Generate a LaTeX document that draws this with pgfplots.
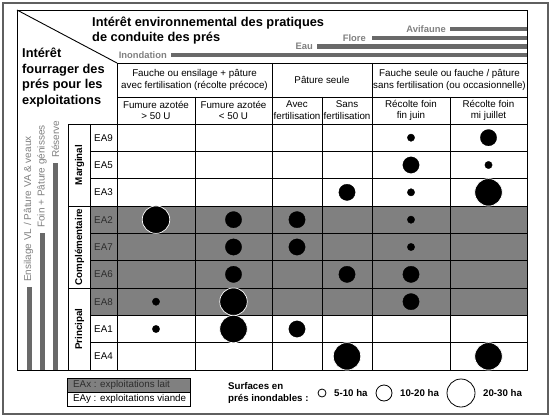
\documentclass[border=0pt]{standalone}
\usepackage{pgfplots}
\pgfplotsset{compat=1.18}
\usepackage{pgfplotstable}
\usepackage{fontspec}
\setmainfont{Liberation Sans}
\definecolor{bargray}{RGB}{105,105,105}
\definecolor{labgray}{RGB}{128,128,128}
\definecolor{rowgray}{RGB}{128,128,128}
\definecolor{framegray}{RGB}{95,95,95}
\definecolor{rowtext}{RGB}{45,45,45}

% bubble centres in picture units (column centre, row centre)
% small: 5-10 ha
\pgfplotstableread{
x y
411 137.67
488.5 165
411 192.33
411 219.67
411 247
156 301.67
156 329
}\smallb
% medium: 10-20 ha
\pgfplotstableread{
x y
488.5 137.67
411 165
347 192.33
233.5 219.67
297 219.67
233.5 247
297 247
233.5 274.33
347 274.33
411 274.33
411 301.67
297 329
}\medb
% large: 20-30 ha
\pgfplotstableread{
x y
488.5 192.33
156 219.67
233.5 301.67
233.5 329
347 356.33
488.5 356.33
}\largeb

\newcommand\hfont{\fontsize{9.8bp}{11.8bp}\selectfont}
\newcommand\tfont{\fontsize{12.8bp}{15.5bp}\selectfont\bfseries}

\begin{document}
\begin{tikzpicture}
\begin{axis}[
  width=555bp, height=417bp, scale only axis,
  xmin=0, xmax=555, ymin=0, ymax=417, y dir=reverse,
  hide axis, clip=false]
\path (0,0) rectangle (555,417);
% gray rows
\fill[rowgray] (90,206) rectangle (527,315.33);
\fill[rowgray] (67,378) rectangle (190,392);
% outer frame
\draw[framegray, line width=1.3bp] (3,3) rectangle (548,414);
% environmental bars
\draw[bargray, line width=4.5bp] (450,29) -- (527,29);
\draw[bargray, line width=4.5bp] (372,38) -- (527,38);
\draw[bargray, line width=4.5bp] (317,46.5) -- (527,46.5);
\draw[bargray, line width=4.5bp] (171,55) -- (527,55);
% fodder bars
\draw[bargray, line width=5bp] (29,287) -- (29,370);
\draw[bargray, line width=5bp] (42,233) -- (42,370);
\draw[bargray, line width=5bp] (55.5,163) -- (55.5,370);
% grid
\draw[line width=0.9bp] (17,10) rectangle (527,370);
\draw[line width=0.9bp] (17,10) -- (117,63);
\draw[line width=0.9bp] (117,63) -- (527,63);
\draw[line width=0.9bp] (117,97) -- (527,97);
\draw[line width=0.9bp] (68,124) -- (527,124);
\draw[line width=0.9bp] (90,151.33) -- (527,151.33);
\draw[line width=0.9bp] (90,178.67) -- (527,178.67);
\draw[line width=0.9bp] (68,206) -- (527,206);
\draw[line width=0.9bp] (90,233.33) -- (527,233.33);
\draw[line width=0.9bp] (90,260.67) -- (527,260.67);
\draw[line width=0.9bp] (68,288) -- (527,288);
\draw[line width=0.9bp] (90,315.33) -- (527,315.33);
\draw[line width=0.9bp] (90,342.67) -- (527,342.67);
\draw[line width=0.9bp] (68,124) -- (68,370);
\draw[line width=0.9bp] (90,124) -- (90,370);
\draw[line width=0.9bp] (117,63) -- (117,370);
\draw[line width=0.9bp] (195,97) -- (195,370);
\draw[line width=0.9bp] (272,63) -- (272,370);
\draw[line width=0.9bp] (322,97) -- (322,370);
\draw[line width=0.9bp] (372,63) -- (372,370);
\draw[line width=0.9bp] (450,97) -- (450,370);
\draw[line width=0.9bp] (67,378) rectangle (190,406);
\draw[line width=0.9bp] (67,392) -- (190,392);
% bubbles
\addplot[only marks, mark=*, mark size=3.7, mark options={fill=black, draw=black, line width=0.3bp}] table[x=x, y=y] {\smallb};
\addplot[only marks, mark=*, mark size=8.2, mark options={fill=black, draw=black, line width=0.3bp}] table[x=x, y=y] {\medb};
\addplot[only marks, mark=*, mark size=13.8, mark options={fill=black, draw=white, line width=0.7bp}] table[x=x, y=y] {\largeb};
% titles
\node[anchor=base west, inner sep=0, font=\tfont] at (92,26.2) {Intérêt environnemental des pratiques};
\node[anchor=base west, inner sep=0, font=\tfont] at (92,41.7) {de conduite des prés};
\node[anchor=base west, inner sep=0, font=\tfont] at (22,58) {Intérêt};
\node[anchor=base west, inner sep=0, font=\tfont] at (22,73.5) {fourrager des};
\node[anchor=base west, inner sep=0, font=\tfont] at (22,89) {prés pour les};
\node[anchor=base west, inner sep=0, font=\tfont] at (22,104.5) {exploitations};
% env labels
\node[anchor=east, inner sep=0, text=labgray, font=\fontsize{9.4bp}{11bp}\selectfont\bfseries] at (446,29) {Avifaune};
\node[anchor=east, inner sep=0, text=labgray, font=\fontsize{9.4bp}{11bp}\selectfont\bfseries] at (366,38) {Flore};
\node[anchor=east, inner sep=0, text=labgray, font=\fontsize{9.4bp}{11bp}\selectfont\bfseries] at (313,46.5) {Eau};
\node[anchor=east, inner sep=0, text=labgray, font=\fontsize{9.4bp}{11bp}\selectfont\bfseries] at (167,55) {Inondation};
% fodder labels
\node[anchor=west, rotate=90, inner sep=0, text=labgray, font=\fontsize{10bp}{12bp}\selectfont] at (28.5,282) {Ensilage VL / Pâture VA \& veaux};
\node[anchor=west, rotate=90, inner sep=0, text=labgray, font=\fontsize{10bp}{12bp}\selectfont] at (42,228) {Foin + Pâture génisses};
\node[anchor=west, rotate=90, inner sep=0, text=labgray, font=\fontsize{10bp}{12bp}\selectfont] at (55.5,158) {Réserve};
% group labels
\node[rotate=90, inner sep=0, font=\fontsize{9.8bp}{12bp}\selectfont\bfseries] at (79.5,165) {Marginal};
\node[rotate=90, inner sep=0, font=\fontsize{9.8bp}{12bp}\selectfont\bfseries] at (79.5,247) {Complémentaire};
\node[rotate=90, inner sep=0, font=\fontsize{9.8bp}{12bp}\selectfont\bfseries] at (79.5,329) {Principal};
% row labels
\node[inner sep=0, font=\hfont] at (103.5,137.67) {EA9};
\node[inner sep=0, font=\hfont] at (103.5,165) {EA5};
\node[inner sep=0, font=\hfont] at (103.5,192.33) {EA3};
\node[inner sep=0, font=\hfont, text=rowtext] at (103.5,219.67) {EA2};
\node[inner sep=0, font=\hfont, text=rowtext] at (103.5,247) {EA7};
\node[inner sep=0, font=\hfont, text=rowtext] at (103.5,274.33) {EA6};
\node[inner sep=0, font=\hfont, text=rowtext] at (103.5,301.67) {EA8};
\node[inner sep=0, font=\hfont] at (103.5,329) {EA1};
\node[inner sep=0, font=\hfont] at (103.5,356.33) {EA4};
% headers
\node[inner sep=0, align=center, font=\hfont] at (194.5,80) {Fauche ou ensilage + pâture\\avec fertilisation (récolte précoce)};
\node[inner sep=0, align=center, font=\hfont] at (322,80) {Pâture seule};
\node[inner sep=0, align=center, font=\hfont] at (449.5,80) {Fauche seule ou fauche / pâture\\sans fertilisation (ou occasionnelle)};
\node[inner sep=0, align=center, font=\hfont] at (156,110.5) {Fumure azotée\\> 50 U};
\node[inner sep=0, align=center, font=\hfont] at (233.5,110.5) {Fumure azotée\\< 50 U};
\node[inner sep=0, align=center, font=\hfont] at (297,110.5) {Avec\\fertilisation};
\node[inner sep=0, align=center, font=\hfont] at (347,110.5) {Sans\\fertilisation};
\node[inner sep=0, align=center, font=\hfont] at (411,110.5) {Récolte foin\\fin juin};
\node[inner sep=0, align=center, font=\hfont] at (488.5,110.5) {Récolte foin\\mi juillet};
% legend
\node[anchor=west, inner sep=0, font=\hfont, text=rowtext] at (73,385) {EAx : exploitations lait};
\node[anchor=west, inner sep=0, font=\hfont] at (73,399) {EAy : exploitations viande};
\node[anchor=west, inner sep=0, align=left, font=\fontsize{9.7bp}{12bp}\selectfont\bfseries] at (228,393) {Surfaces en\\prés inondables :};
\draw[black, line width=0.8bp, fill=white] (322,393) circle[radius=4bp];
\draw[black, line width=0.8bp, fill=white] (384,393) circle[radius=8bp];
\draw[black, line width=0.8bp, fill=white] (461,393) circle[radius=14bp];
\node[anchor=west, inner sep=0, font=\fontsize{9.7bp}{12bp}\selectfont\bfseries] at (334,393) {5-10 ha};
\node[anchor=west, inner sep=0, font=\fontsize{9.7bp}{12bp}\selectfont\bfseries] at (400,393) {10-20 ha};
\node[anchor=west, inner sep=0, font=\fontsize{9.7bp}{12bp}\selectfont\bfseries] at (483,393) {20-30 ha};
\end{axis}
\end{tikzpicture}
\end{document}
